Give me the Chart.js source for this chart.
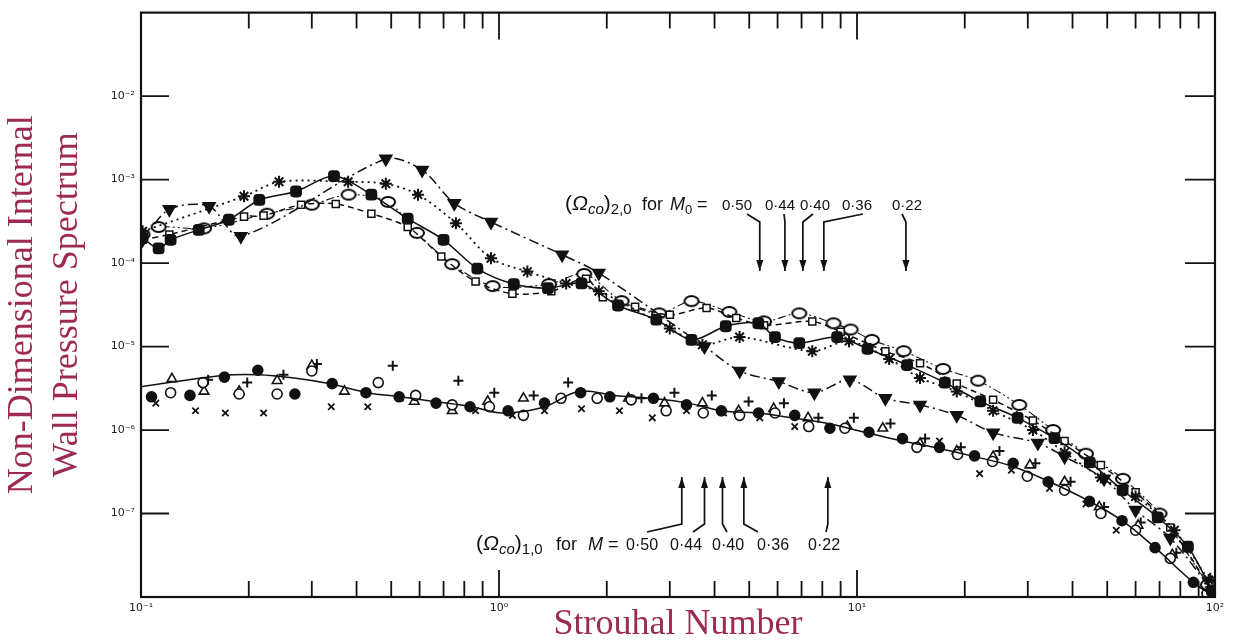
<!DOCTYPE html>
<html lang="en">
<head>
  <meta charset="UTF-8">
  <title>Wall pressure spectrum</title>
  <script src="https://cdn.jsdelivr.net/npm/chart.js"></script>
  <style>
    html, body { margin: 0; padding: 0; background: #fff; }
    #chart_box { position: absolute; left: 0; top: 0; width: 1233px; height: 643px; }
  </style>
</head>
<body>
  <div id="chart_box">
    <canvas id="myChart" width="1233" height="643"></canvas>
  </div>
  <script>
    // axis ticks
    const xDecades = [0.1, 1, 10, 100];
    const xTickLabels = ['10\u207B\u00B9', '10\u2070', '10\u00B9', '10\u00B2'];
    const yDecades = [1e-8, 1e-7, 1e-6, 1e-5, 1e-4, 1e-3, 1e-2, 1e-1];
    const yTickLabels = ['', '10\u207B\u2077', '10\u207B\u2076', '10\u207B\u2075', '10\u207B\u2074', '10\u207B\u00B3', '10\u207B\u00B2', ''];

    // upper family of curves
    const filledSt = [0.101, 0.112, 0.121, 0.145, 0.176, 0.214, 0.271, 0.346, 0.44, 0.556, 0.70, 0.87, 1.1, 1.37, 1.7, 2.15, 2.75, 3.45, 4.3, 5.3, 5.9, 6.9, 8.8, 10.7, 13.8, 17.6, 22.1, 28.1, 35.6, 44.7, 55.2, 69.2, 84, 98];
    const filledSp = [2.0e-4, 1.5e-4, 1.9e-4, 2.5e-4, 3.3e-4, 5.7e-4, 7.2e-4, 1.1e-3, 6.6e-4, 3.4e-4, 1.9e-4, 8.6e-5, 5.6e-5, 5.0e-5, 5.7e-5, 3.1e-5, 2.1e-5, 1.2e-5, 1.75e-5, 1.9e-5, 1.3e-5, 1.1e-5, 1.3e-5, 9.4e-6, 6.0e-6, 3.7e-6, 2.2e-6, 1.4e-6, 8.0e-7, 4.1e-7, 1.9e-7, 9.0e-8, 4.0e-8, 1.2e-8];

    const triSt = [0.101, 0.12, 0.155, 0.19, 0.483, 0.61, 0.75, 0.95, 1.5, 1.9, 3.75, 4.7, 6.05, 7.6, 9.55, 12, 15, 19, 24, 32, 38, 49, 60, 75, 98];
    const triSp = [1.9e-4, 4.4e-4, 4.8e-4, 2.1e-4, 1.77e-3, 1.3e-3, 5.2e-4, 3.1e-4, 1.26e-4, 7.6e-5, 1.0e-5, 5.1e-6, 3.8e-6, 2.8e-6, 4.0e-6, 2.4e-6, 2.0e-6, 1.5e-6, 9.3e-7, 7.0e-7, 4.8e-7, 2.6e-7, 1.1e-7, 5.1e-8, 1.2e-8];

    const starSt = [0.101, 0.194, 0.243, 0.379, 0.483, 0.594, 0.758, 0.95, 1.2, 1.54, 1.9, 3.0, 3.7, 4.7, 7.5, 9.5, 12.3, 15, 19, 24, 31, 38, 48, 60, 77, 96];
    const starSp = [2.4e-4, 6.3e-4, 9.4e-4, 9.4e-4, 8.9e-4, 6.6e-4, 3.0e-4, 1.14e-4, 7.9e-5, 5.7e-5, 4.6e-5, 1.65e-5, 1.05e-5, 1.3e-5, 8.8e-6, 1.16e-5, 7.1e-6, 4.2e-6, 2.9e-6, 1.7e-6, 1.0e-6, 5.4e-7, 2.7e-7, 1.6e-7, 6.3e-8, 1.6e-8];

    const squareSt = [0.101, 0.12, 0.194, 0.22, 0.28, 0.35, 0.44, 0.556, 0.69, 0.86, 1.09, 1.4, 1.75, 1.95, 2.4, 3.0, 3.8, 4.6, 5.5, 7.5, 9.0, 12, 15, 19, 24, 31, 38, 48, 60, 75, 98];
    const squareSp = [1.9e-4, 2.2e-4, 3.6e-4, 3.7e-4, 5.0e-4, 5.1e-4, 3.9e-4, 2.7e-4, 1.2e-4, 6.0e-5, 4.3e-5, 4.6e-5, 6.5e-5, 3.9e-5, 3.0e-5, 2.4e-5, 2.9e-5, 2.2e-5, 1.8e-5, 2.0e-5, 1.5e-5, 8.8e-6, 6.3e-6, 3.6e-6, 2.3e-6, 1.3e-6, 7.4e-7, 3.8e-7, 1.8e-7, 6.8e-8, 1.2e-8];

    const ovalSt = [0.101, 0.112, 0.15, 0.225, 0.3, 0.38, 0.49, 0.59, 0.74, 0.96, 1.38, 1.73, 2.2, 2.8, 3.45, 4.4, 5.5, 6.9, 8.6, 9.6, 11, 13.5, 17.4, 21.8, 28.4, 35.3, 43.6, 55.3, 70, 95.5];
    const ovalSp = [2.2e-4, 2.7e-4, 2.6e-4, 3.9e-4, 5.0e-4, 6.6e-4, 5.4e-4, 2.3e-4, 9.7e-5, 5.3e-5, 5.6e-5, 7.4e-5, 3.5e-5, 2.5e-5, 3.5e-5, 2.6e-5, 2.0e-5, 2.5e-5, 1.9e-5, 1.6e-5, 1.2e-5, 8.8e-6, 5.4e-6, 3.9e-6, 2.0e-6, 1.0e-6, 5.2e-7, 2.6e-7, 1.0e-7, 1.4e-8];

    // lower family: faired curve and scattered points
    const fitSt = [0.1, 0.169, 0.212, 0.268, 0.335, 0.43, 0.53, 0.655, 0.84, 1.02, 1.34, 1.67, 2.1, 2.66, 3.38, 4.18, 5.3, 6.6, 8.3, 10.1, 13.4, 17, 21.3, 27, 34.5, 44.6, 55, 68, 87, 100];
    const fitSp = [3.3e-6, 4.5e-6, 4.6e-6, 4.2e-6, 3.6e-6, 2.8e-6, 2.5e-6, 2.2e-6, 1.9e-6, 1.6e-6, 1.9e-6, 2.9e-6, 2.6e-6, 2.4e-6, 2.1e-6, 1.7e-6, 1.6e-6, 1.4e-6, 1.2e-6, 9.8e-7, 7.4e-7, 6.0e-7, 4.8e-7, 3.7e-7, 2.4e-7, 1.4e-7, 8.2e-8, 3.9e-8, 1.5e-8, 1.0e-8];

    const dotSt = [0.107, 0.137, 0.171, 0.212, 0.269, 0.342, 0.425, 0.526, 0.667, 0.83, 1.06, 1.34, 1.69, 2.04, 2.70, 3.34, 4.18, 5.31, 6.70, 8.40, 10.8, 13.4, 17.0, 21.3, 27.3, 34.2, 44.6, 55, 68, 87];
    const dotSp = [2.5e-6, 2.6e-6, 4.3e-6, 5.2e-6, 2.7e-6, 3.6e-6, 2.8e-6, 2.5e-6, 2.1e-6, 1.9e-6, 1.7e-6, 2.1e-6, 2.8e-6, 2.5e-6, 2.4e-6, 2.0e-6, 1.7e-6, 1.6e-6, 1.5e-6, 1.05e-6, 9.4e-7, 7.9e-7, 6.2e-7, 4.9e-7, 4.0e-7, 2.4e-7, 1.4e-7, 8.2e-8, 3.9e-8, 1.5e-8];

    const ringSt = [0.121, 0.149, 0.188, 0.24, 0.30, 0.46, 0.585, 0.74, 0.94, 1.17, 1.49, 1.88, 2.34, 2.93, 3.72, 4.70, 5.9, 7.33, 9.25, 14.7, 19.1, 23.9, 29.9, 38, 48, 60, 75, 95];
    const ringSp = [2.8e-6, 3.7e-6, 2.7e-6, 2.7e-6, 5.1e-6, 3.7e-6, 2.6e-6, 2.0e-6, 1.9e-6, 1.5e-6, 2.4e-6, 2.4e-6, 2.3e-6, 1.7e-6, 1.6e-6, 1.5e-6, 1.6e-6, 1.1e-6, 1.05e-6, 6.2e-7, 5.1e-7, 4.2e-7, 2.8e-7, 1.9e-7, 1.0e-7, 6.3e-8, 2.9e-8, 1.1e-8];

    const deltaSt = [0.122, 0.15, 0.188, 0.24, 0.30, 0.37, 0.58, 0.74, 0.93, 1.17, 2.3, 2.9, 3.7, 4.67, 5.85, 7.3, 9.4, 11.8, 15, 19, 24, 30.4, 38, 47.5, 61, 76, 95];
    const deltaSp = [4.1e-6, 2.9e-6, 2.9e-6, 3.9e-6, 5.9e-6, 2.9e-6, 2.2e-6, 1.7e-6, 2.2e-6, 2.4e-6, 2.4e-6, 2.1e-6, 2.1e-6, 1.7e-6, 1.8e-6, 1.4e-6, 1.1e-6, 1.05e-6, 6.9e-7, 5.6e-7, 4.8e-7, 3.8e-7, 2.4e-7, 1.2e-7, 7.2e-8, 3.2e-8, 1.2e-8];

    const plusSt = [0.154, 0.198, 0.25, 0.31, 0.505, 0.77, 0.97, 1.25, 1.56, 2.5, 3.09, 3.93, 4.98, 6.25, 7.8, 9.8, 12.4, 15.5, 19.5, 25, 31.5, 39.5, 49, 62, 78, 97];
    const plusSp = [4.0e-6, 3.7e-6, 4.6e-6, 6.2e-6, 5.9e-6, 3.9e-6, 2.8e-6, 2.6e-6, 3.7e-6, 2.4e-6, 2.8e-6, 2.6e-6, 2.2e-6, 2.1e-6, 1.4e-6, 1.4e-6, 1.2e-6, 7.9e-7, 6.2e-7, 5.6e-7, 4.0e-7, 2.4e-7, 1.2e-7, 7.8e-8, 3.4e-8, 1.7e-8];

    const crossSt = [0.11, 0.142, 0.172, 0.22, 0.34, 0.43, 0.53, 0.67, 0.86, 1.09, 1.34, 1.70, 2.17, 2.68, 3.34, 4.24, 5.35, 6.7, 17, 22, 27, 34.5, 43.6, 53];
    const crossSp = [2.1e-6, 1.7e-6, 1.6e-6, 1.6e-6, 1.9e-6, 1.9e-6, 2.4e-6, 2.1e-6, 1.7e-6, 1.5e-6, 1.7e-6, 1.8e-6, 1.7e-6, 1.4e-6, 1.7e-6, 1.6e-6, 1.4e-6, 1.1e-6, 7.4e-7, 3.0e-7, 3.3e-7, 2.0e-7, 1.3e-7, 6.3e-8];

    // cut-on frequencies marked by arrows
    const machLabels = ['0\u00B750', '0\u00B744', '0\u00B740', '0\u00B736', '0\u00B722'];
    const cutOn20 = [5.35, 6.29, 7.06, 8.08, 13.7];
    const cutOn10 = [3.24, 3.75, 4.21, 4.83, 8.29];

    const ink = '#111';
    const titleRed = '#9c2a55';

    const pts = (xs, ys) => xs.map((v, i) => ({ x: v, y: ys[i] }));
    const isDecade = v => Math.abs(Math.log10(v) - Math.round(Math.log10(v))) < 1e-6;

    // open oval marker
    function ovalMarker(w, h) {
      const c = document.createElement('canvas');
      c.width = w + 4; c.height = h + 4;
      const g = c.getContext('2d');
      g.beginPath();
      g.ellipse(c.width / 2, c.height / 2, w / 2, h / 2, 0, 0, Math.PI * 2);
      g.fillStyle = '#fff'; g.fill();
      g.lineWidth = 2; g.strokeStyle = '#000'; g.stroke();
      return c;
    }

    function curve(data, extra) {
      return Object.assign({
        data: data, showLine: true, tension: 0.3, borderColor: ink, borderWidth: 1.5,
        pointBorderColor: ink, pointBackgroundColor: ink, pointBorderWidth: 1.5, pointRadius: 5.5
      }, extra);
    }
    function marks(data, extra) {
      return Object.assign({
        data: data, showLine: false, pointBorderColor: ink, pointBackgroundColor: ink,
        pointBorderWidth: 1.6, pointRadius: 5
      }, extra);
    }

    // inward tick marks and the box round the plot
    const frameTicks = {
      id: 'frameTicks',
      afterDraw(chart) {
        const { ctx, chartArea: a, scales: { x, y } } = chart;
        ctx.save();
        ctx.strokeStyle = ink;
        ctx.lineWidth = 1.8;
        x.ticks.forEach(t => {
          const px = x.getPixelForValue(t.value);
          const len = isDecade(t.value) ? 27 : 16;
          ctx.beginPath();
          ctx.moveTo(px, a.bottom); ctx.lineTo(px, a.bottom - len);
          ctx.moveTo(px, a.top); ctx.lineTo(px, a.top + len);
          ctx.stroke();
        });
        y.ticks.forEach((t, i) => {
          if (i === 0 || i === y.ticks.length - 1) return;
          const py = y.getPixelForValue(t.value);
          ctx.beginPath();
          ctx.moveTo(a.left, py); ctx.lineTo(a.left + 28, py);
          ctx.moveTo(a.right, py); ctx.lineTo(a.right - 30, py);
          ctx.stroke();
        });
        ctx.lineWidth = 2.2;
        ctx.strokeRect(a.left, a.top, a.right - a.left, a.bottom - a.top);
        ctx.restore();
      }
    };

    function drawRuns(ctx, x, y, runs, size) {
      runs.forEach(r => {
        const fs = r.sub ? Math.round(size * 0.7) : size;
        ctx.font = (r.it ? 'italic ' : '') + fs + 'px "Liberation Sans"';
        ctx.fillText(r.t, x, y + (r.sub ? 4 : 0));
        x += ctx.measureText(r.t).width;
      });
      return x;
    }

    function arrowPath(ctx, path, up) {
      ctx.beginPath();
      ctx.moveTo(path[0][0], path[0][1]);
      for (let i = 1; i < path.length; i++) ctx.lineTo(path[i][0], path[i][1]);
      ctx.stroke();
      const [tx, ty] = path[path.length - 1];
      const d = up ? 1 : -1;
      ctx.beginPath();
      ctx.moveTo(tx, ty);
      ctx.lineTo(tx - 3.5, ty + d * 11);
      ctx.lineTo(tx + 3.5, ty + d * 11);
      ctx.closePath();
      ctx.fill();
    }

    const cutOnNotes = {
      id: 'cutOnNotes',
      afterDraw(chart) {
        const { ctx, scales: { x } } = chart;
        ctx.save();
        ctx.fillStyle = ink;
        ctx.strokeStyle = ink;
        ctx.lineWidth = 1.7;
        ctx.textBaseline = 'alphabetic';

        // (2,0) mode, arrows pointing down
        drawRuns(ctx, 565, 210, [
          { t: '(' }, { t: '\u03A9', it: true }, { t: 'co', it: true, sub: true }, { t: ')' }, { t: '2,0', sub: true }
        ], 21);
        drawRuns(ctx, 642, 210, [{ t: 'for' }], 18);
        drawRuns(ctx, 670, 210, [{ t: 'M', it: true }, { t: '0', sub: true }], 18);
        drawRuns(ctx, 697, 210, [{ t: '=' }], 18);
        const topNum = [722, 765, 800, 842, 892];
        const topFoot = [747, 784, 813, 863, 902];
        ctx.font = '15px "Liberation Sans"';
        machLabels.forEach((s, i) => {
          ctx.fillText(s, topNum[i], 210);
          const ax = x.getPixelForValue(cutOn20[i]);
          arrowPath(ctx, [[topFoot[i], 214], [ax, 222], [ax, 271]], false);
        });

        // (1,0) mode, arrows pointing up
        drawRuns(ctx, 476, 550, [
          { t: '(' }, { t: '\u03A9', it: true }, { t: 'co', it: true, sub: true }, { t: ')' }, { t: '1,0', sub: true }
        ], 21);
        drawRuns(ctx, 556, 550, [{ t: 'for' }], 18);
        drawRuns(ctx, 588, 550, [{ t: 'M', it: true }], 18);
        drawRuns(ctx, 608, 550, [{ t: '=' }], 18);
        const lowNum = [626, 670, 712, 757, 808];
        const lowFoot = [647, 693, 727, 758, 826];
        ctx.font = '16px "Liberation Sans"';
        machLabels.forEach((s, i) => {
          ctx.fillText(s, lowNum[i], 550);
          const ax = x.getPixelForValue(cutOn10[i]);
          arrowPath(ctx, [[lowFoot[i], 532], [ax, 524], [ax, 477]], true);
        });
        ctx.restore();
      }
    };

    const ctx = document.getElementById('myChart').getContext('2d');
    const chart = new Chart(ctx, {
      type: 'scatter',
      data: {
        datasets: [
          curve(pts(filledSt, filledSp), { pointStyle: 'rectRounded', pointRadius: 6 }),
          curve(pts(triSt, triSp), { pointStyle: 'triangle', pointRotation: 180, pointRadius: 7, borderDash: [10, 4, 2, 4] }),
          curve(pts(starSt, starSp), { pointStyle: 'star', pointRadius: 6, pointBorderWidth: 2, borderDash: [2, 4], borderWidth: 1.8 }),
          curve(pts(squareSt, squareSp), { pointStyle: 'rect', pointRadius: 5, pointBackgroundColor: '#fff', borderDash: [6, 4] }),
          curve(pts(ovalSt, ovalSp), { pointStyle: ovalMarker(14, 10), borderWidth: 1.1, borderDash: [8, 3, 2, 3, 2, 3] }),
          curve(pts(fitSt, fitSp), { pointRadius: 0, borderWidth: 1.5, tension: 0.4 }),
          marks(pts(dotSt, dotSp), { pointStyle: 'circle', pointRadius: 5 }),
          marks(pts(ringSt, ringSp), { pointStyle: 'circle', pointRadius: 5, pointBackgroundColor: '#fff' }),
          marks(pts(deltaSt, deltaSp), { pointStyle: 'triangle', pointRadius: 5.5, pointBackgroundColor: '#fff' }),
          marks(pts(plusSt, plusSp), { pointStyle: 'cross', pointRadius: 5, pointBorderWidth: 2 }),
          marks(pts(crossSt, crossSp), { pointStyle: 'crossRot', pointRadius: 4.5, pointBorderWidth: 1.8 })
        ]
      },
      options: {
        responsive: false,
        animation: false,
        devicePixelRatio: 1,
        layout: { padding: { top: 11, right: 18, left: 0, bottom: 0 } },
        plugins: {
          legend: { display: false },
          tooltip: { enabled: false }
        },
        scales: {
          x: {
            type: 'logarithmic',
            min: 0.1,
            max: 100,
            afterBuildTicks: s => {
              const vals = [];
              xDecades.forEach((d, i) => {
                if (i === xDecades.length - 1) { vals.push(d); return; }
                for (let k = 1; k <= 9; k++) vals.push(d * k);
              });
              s.ticks = vals.map(v => ({ value: v }));
            },
            afterFit: s => { s.height = 46; },
            grid: { display: false, drawTicks: false },
            border: { display: false },
            ticks: {
              autoSkip: false,
              maxRotation: 0,
              padding: 5,
              color: '#222',
              font: { family: 'DejaVu Sans', size: 11 },
              callback: v => {
                const i = xDecades.findIndex(d => Math.abs(d - v) / d < 1e-6);
                return i >= 0 ? xTickLabels[i] : '';
              }
            },
            title: {
              display: true,
              text: 'Strouhal Number',
              color: titleRed,
              padding: 0,
              font: { family: 'Liberation Serif', size: 36, lineHeight: 1 }
            }
          },
          y: {
            type: 'logarithmic',
            min: 1e-8,
            max: 1e-1,
            afterBuildTicks: s => { s.ticks = yDecades.map(v => ({ value: v })); },
            afterFit: s => { s.width = 141; },
            grid: { display: false, drawTicks: false },
            border: { display: false },
            ticks: {
              autoSkip: false,
              padding: 6,
              color: '#222',
              font: { family: 'DejaVu Sans', size: 11 },
              callback: (v, i) => yTickLabels[i]
            },
            title: {
              display: true,
              text: ['Non-Dimensional Internal', 'Wall Pressure Spectrum'],
              color: titleRed,
              padding: 0,
              font: { family: 'Liberation Serif', size: 36, lineHeight: 1.25 }
            }
          }
        }
      },
      plugins: [frameTicks, cutOnNotes]
    });
  </script>
</body>
</html>
